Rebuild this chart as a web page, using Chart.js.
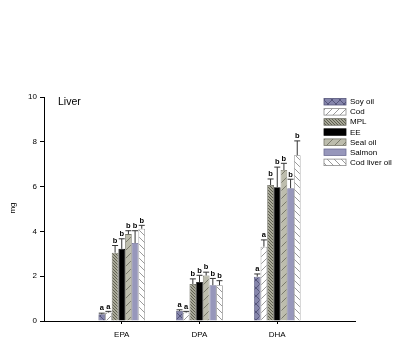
<!DOCTYPE html>
<html>
<head>
<meta charset="utf-8">
<script src="https://cdn.jsdelivr.net/npm/chart.js@4"></script>
<style>
  html, body { margin: 0; padding: 0; background: #fff; }
  #wrap { width: 395px; height: 338px; }
</style>
</head>
<body>
<div id="wrap"><canvas id="liverChart" width="395" height="338"></canvas></div>
<script>
// Data (empty slots at both ends, as in the original figure)
const categories = ['', 'EPA', 'DPA', 'DHA', ''];
const seriesNames = ['Soy oil', 'Cod', 'MPL', 'EE', 'Seal oil', 'Salmon', 'Cod liver oil'];

const soyOil      = [null, 0.30, 0.45, 1.98, null];
const cod         = [null, 0.38, 0.38, 3.32, null];
const mpl         = [null, 3.05, 1.65, 6.07, null];
const ee          = [null, 3.22, 1.74, 5.97, null];
const sealOil     = [null, 3.88, 2.03, 6.74, null];
const salmon      = [null, 3.48, 1.60, 5.93, null];
const codLiverOil = [null, 4.12, 1.60, 7.40, null];

const soyErr      = [null, 0.05, 0.05, 0.12, null];
const codErr      = [null, 0.05, 0.05, 0.30, null];
const mplErr      = [null, 0.32, 0.23, 0.27, null];
const eeErr       = [null, 0.45, 0.30, 0.90, null];
const sealErr     = [null, 0.15, 0.15, 0.30, null];
const salmonErr   = [null, 0.55, 0.30, 0.40, null];
const codLiverErr = [null, 0.15, 0.20, 0.64, null];

const soyLetters      = ['', 'a', 'a', 'a', ''];
const codLetters      = ['', 'a', 'a', 'a', ''];
const mplLetters      = ['', 'b', 'b', 'b', ''];
const eeLetters       = ['', 'b', 'b', 'b', ''];
const sealLetters     = ['', 'b', 'b', 'b', ''];
const salmonLetters   = ['', 'b', 'b', 'b', ''];
const codLiverLetters = ['', 'b', 'b', 'b', ''];

const yTicks = [0, 2, 4, 6, 8, 10];

// Hatch patterns
function makePattern(bg, fg, kind, size) {
    const c = document.createElement('canvas');
    c.width = size; c.height = size;
    const g = c.getContext('2d');
    g.fillStyle = bg;
    g.fillRect(0, 0, size, size);
    if (kind) {
        g.strokeStyle = fg;
        g.lineWidth = 1;
        g.beginPath();
        if (kind === '/' || kind === 'x') {
            g.moveTo(-1, size + 1); g.lineTo(size + 1, -1);
        }
        if (kind === '\\' || kind === 'x') {
            g.moveTo(-1, -1); g.lineTo(size + 1, size + 1);
        }
        g.stroke();
    }
    return g.createPattern(c, 'repeat');
}

const fills = [
    makePattern('#8585ab', '#55557a', 'x', 8),
    makePattern('#ffffff', '#9a9a9a', '/', 7),
    makePattern('#a8a898', '#5e5e50', '\\', 3),
    '#000000',
    makePattern('#bdbdad', '#7a7a6c', '/', 8),
    '#9797bb',
    makePattern('#ffffff', '#9a9a9a', '\\', 7)
];
const borders = ['#55557a', '#8a8a8a', '#606055', '#000000', '#77776a', '#6e6e94', '#8a8a8a'];

const values  = [soyOil, cod, mpl, ee, sealOil, salmon, codLiverOil];
const errors  = [soyErr, codErr, mplErr, eeErr, sealErr, salmonErr, codLiverErr];
const letters = [soyLetters, codLetters, mplLetters, eeLetters, sealLetters, salmonLetters, codLiverLetters];

const datasets = seriesNames.map((name, i) => ({
    label: name,
    data: values[i],
    err: errors[i],
    letters: letters[i],
    backgroundColor: fills[i],
    borderColor: borders[i],
    borderWidth: 0.8,
    categoryPercentage: 0.6,
    barPercentage: 1.0
}));

// Error bars + significance letters
const errorBarPlugin = {
    id: 'errorBars',
    afterDatasetsDraw(chart) {
        const ctx = chart.ctx;
        const y = chart.scales.y;
        chart.data.datasets.forEach((ds, di) => {
            const meta = chart.getDatasetMeta(di);
            meta.data.forEach((bar, idx) => {
                const v = ds.data[idx];
                if (v == null) return;
                const top = y.getPixelForValue(v + ds.err[idx]);
                const half = bar.width * 0.45;
                ctx.save();
                ctx.strokeStyle = '#333';
                ctx.lineWidth = 1;
                ctx.beginPath();
                ctx.moveTo(bar.x, bar.y);
                ctx.lineTo(bar.x, top);
                ctx.moveTo(bar.x - half, top);
                ctx.lineTo(bar.x + half, top);
                ctx.stroke();
                ctx.fillStyle = '#000';
                ctx.font = 'bold 7.5px Arial, "Liberation Sans", sans-serif';
                ctx.textAlign = 'center';
                ctx.textBaseline = 'bottom';
                ctx.fillText(ds.letters[idx], bar.x, top - 1);
                ctx.restore();
            });
        });
    }
};

// Title, axis title and the legend drawn over the plot area
const decorPlugin = {
    id: 'decor',
    afterDraw(chart) {
        const ctx = chart.ctx;
        ctx.save();
        ctx.fillStyle = '#000';
        ctx.font = '10.5px Arial, "Liberation Sans", sans-serif';
        ctx.textBaseline = 'middle';
        ctx.textAlign = 'left';
        ctx.fillText('Liver', 58, 102);

        ctx.translate(13, 208);
        ctx.rotate(-Math.PI / 2);
        ctx.font = '8px Arial, "Liberation Sans", sans-serif';
        ctx.textAlign = 'center';
        ctx.fillText('mg', 0, 0);
        ctx.restore();

        ctx.save();
        ctx.font = '8px Arial, "Liberation Sans", sans-serif';
        ctx.textBaseline = 'middle';
        chart.data.datasets.forEach((ds, i) => {
            const by = 98.5 + i * 10.1;
            ctx.fillStyle = ds.backgroundColor;
            ctx.fillRect(324, by, 22, 6.5);
            ctx.strokeStyle = ds.borderColor;
            ctx.lineWidth = 0.8;
            ctx.strokeRect(324, by, 22, 6.5);
            ctx.fillStyle = '#000';
            ctx.fillText(ds.label, 350, by + 3.5);
        });
        ctx.restore();
    }
};

new Chart(document.getElementById('liverChart').getContext('2d'), {
    type: 'bar',
    data: { labels: categories, datasets: datasets },
    options: {
        responsive: false,
        animation: false,
        layout: { padding: { top: 97, right: 40, left: 0, bottom: 0 } },
        plugins: {
            legend: { display: false },
            tooltip: { enabled: false }
        },
        scales: {
            x: {
                offset: false,
                afterFit: (s) => { s.height = 17; },
                grid: {
                    offset: false,
                    drawOnChartArea: false,
                    tickLength: 3,
                    color: (c) => (c.index === 0 || c.index === categories.length - 1) ? 'rgba(0,0,0,0)' : '#000'
                },
                border: { display: true, color: '#000', width: 1 },
                ticks: {
                    color: '#000',
                    font: { family: 'Arial, "Liberation Sans", sans-serif', size: 8 },
                    padding: 6,
                    maxRotation: 0,
                    autoSkip: false
                }
            },
            y: {
                min: 0,
                max: 10,
                afterFit: (s) => { s.width = 44; },
                afterBuildTicks: (s) => { s.ticks = yTicks.map(v => ({ value: v })); },
                grid: { drawOnChartArea: false, tickLength: 4, color: '#000' },
                border: { display: true, color: '#000', width: 1 },
                ticks: {
                    color: '#000',
                    font: { family: 'Arial, "Liberation Sans", sans-serif', size: 8 },
                    padding: 3
                }
            }
        }
    },
    plugins: [errorBarPlugin, decorPlugin]
});
</script>
</body>
</html>
